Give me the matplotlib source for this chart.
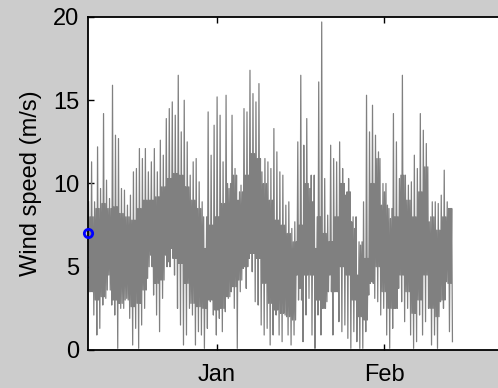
import numpy as np
import matplotlib
matplotlib.use('Agg')
import matplotlib.pyplot as plt
import matplotlib.dates as mdates
from datetime import datetime

plt.rcParams['font.family'] = ['Liberation Sans', 'DejaVu Sans']

# upper / lower envelope of the wind record, read every ~3 px (about half a day)
hi_dec = [8.9, 11.3, 8.9, 12.2, 9.7, 14.2, 10.2, 9.1, 15.9, 12.9, 12.7, 9.7, 9.6, 8.7, 9.3, 10.7, 10.9, 12.1, 11.5, 12.1, 10.7,
          11.3, 12.1, 10.7, 12.6, 11.7, 13.9, 14.5, 14.9, 14.1, 16.5, 13.1, 15.0, 12.5, 10.5, 11.3, 11.5, 10.1, 8.9, 6.1, 14.3]
lo_dec = [3.5, 2.1, 0.9, 1.3, 2.7, 3.1, 4.5, 2.7, 2.1, 0.1, 2.5, 2.5, 3.1, 1.9, 0.3, 1.3, 0.1, 1.5, 2.5, 4.3, 5.7,
          3.3, 2.1, 1.1, 3.1, 5.7, 5.3, 6.1, 4.5, 2.5, 1.5, 0.3, 0.9, 2.5, 2.1, 0.3, 1.1, 0.9, 0.1, 1.3, 2.9]
hi_jan = [11.7, 13.5, 15.2, 14.1, 11.3, 15.3, 9.7, 14.1, 10.9, 9.0, 9.9, 14.5, 14.3, 16.8, 15.4, 14.9, 16.0, 10.7, 11.5, 11.3,
          10.9, 13.3, 11.9, 10.7, 10.5, 8.7, 8.9, 7.3, 7.7, 12.5, 16.5, 12.3, 13.9, 9.7, 8.9, 6.1, 16.1, 19.7, 10.3, 8.1,
          12.3, 11.5, 11.3, 12.5, 10.9, 9.3, 10.3, 7.7, 7.3, 4.5, 6.3, 8.9, 15.3, 13.1, 14.7, 12.9, 11.9, 8.7, 9.5, 8.7]
lo_jan = [2.1, 0.9, 1.9, 1.1, 2.3, 3.1, 3.5, 2.5, 0.1, 3.5, 4.9, 3.7, 5.5, 4.7, 2.9, 2.7, 1.5, 0.9, 1.3, 0.3,
          0.9, 2.1, 0.9, 0.5, 2.1, 0.9, 0.3, 0.9, 4.5, 3.7, 0.5, 2.1, 3.1, 0.9, 0.1, 2.1, 0.9, 2.5, 2.9, 4.5,
          0.9, 3.5, 1.7, 1.1, 1.5, 0.7, 0.1, 1.1, 0.5, 0.1, 0.1, 1.1, 3.3, 4.1, 3.1, 2.9, 2.1, 2.5, 0.9, 0.1]
hi_feb = [7.9, 14.2, 12.5, 10.3, 16.5, 10.5, 9.9, 10.1, 11.7, 10.9, 14.2, 13.2, 12.4, 7.7, 8.9, 8.9, 8.8, 9.3, 10.8, 8.9, 8.5]
lo_feb = [1.3, 2.5, 3.7, 2.9, 1.7, 2.5, 0.9, 0.1, 0.5, 2.1, 0.9, 1.7, 2.5, 0.3, 0.9, 0.1, 2.9, 2.5, 4.1, 1.1, 0.5]

# dense core of the trace (where the line is solid grey), read every ~6 px
core_top = [8.0, 8.5, 8.8, 8.5, 8.6, 8.2, 8.0, 7.8, 8.5, 9.0, 9.0,
            9.2, 9.8, 10.3, 10.6, 10.5, 9.8, 9.0, 8.5, 8.0, 7.5,
            8.0, 8.8, 10.0, 10.5, 9.5, 10.5, 11.8, 11.5, 10.0, 9.0,
            7.8, 7.5, 7.0, 6.5, 7.5, 10.0, 10.5, 8.0, 7.0, 6.5,
            8.0, 10.0, 9.5, 8.0, 6.5, 5.5, 10.0, 11.5, 10.0, 8.5,
            8.0, 10.5, 9.0, 8.0, 9.5, 11.0, 8.0, 7.2, 8.0, 8.5]
core_bot = [3.5, 3.0, 3.2, 3.6, 3.0, 2.8, 3.0, 2.6, 2.8, 3.6, 5.0,
            4.0, 4.2, 5.0, 5.5, 5.2, 4.0, 2.8, 2.6, 2.5, 3.0,
            2.4, 2.5, 3.2, 3.8, 4.2, 5.0, 5.8, 5.5, 4.0, 2.8,
            2.4, 2.2, 2.0, 1.8, 3.0, 4.5, 4.5, 3.0, 2.5, 3.5,
            3.5, 5.0, 4.5, 3.0, 2.0, 1.8, 4.0, 5.0, 3.5, 2.5,
            2.5, 4.5, 3.5, 2.2, 3.0, 4.5, 2.5, 2.0, 3.0, 4.0]

now_speed = 7.05
t_first = datetime(2011, 12, 8, 4)
t_last = datetime(2012, 2, 13, 17)
t_now = datetime(2011, 12, 8)
xlim = (datetime(2011, 12, 8), datetime(2012, 3, 1))
ticks = [datetime(2012, 1, 1), datetime(2012, 2, 1)]
tick_labels = ['Jan', 'Feb']

hi = np.array(hi_dec + hi_jan + hi_feb)
lo = np.array(lo_dec + lo_jan + lo_feb)
ctop = np.repeat(core_top, 2)[:len(hi)]
cbot = np.repeat(core_bot, 2)[:len(hi)]
# each half-day step: peak, core bottom, core top, trough
speed = np.column_stack([hi, cbot, ctop, lo]).ravel()
t = np.linspace(mdates.date2num(t_first), mdates.date2num(t_last), len(speed))

W, H = 498, 388
fig = plt.figure(figsize=(W / 100, H / 100), dpi=100, facecolor='#cccccc')
px_day = 167 / 31.0
days = (mdates.date2num(xlim[1]) - mdates.date2num(xlim[0]))
ax = fig.add_axes([87.7 / W, 1 - 350 / H, days * px_day / W, 333 / H])

grey = '#808080'
ax.plot(t, speed, color=grey, linewidth=0.9)
ax.plot([mdates.date2num(t_now)], [now_speed], 'o', color='#0000ff', mfc='none',
        mew=2, ms=6, clip_on=False, zorder=5)

ax.set_xlim(mdates.date2num(xlim[0]), mdates.date2num(xlim[1]))
ax.set_ylim(0, 20)
ax.set_yticks([0, 5, 10, 15, 20])
ax.set_xticks(mdates.date2num(ticks))
ax.set_xticklabels(tick_labels)
ax.tick_params(direction='in', top=True, right=True, length=4, width=1,
               labelsize=17, pad=6)
ax.tick_params(axis='x', pad=10)
for s in ax.spines.values():
    s.set_linewidth(1.3)
ax.set_ylabel('Wind speed (m/s)', fontsize=17, labelpad=8)

fig.savefig('out.png', dpi=100, facecolor=fig.get_facecolor())
